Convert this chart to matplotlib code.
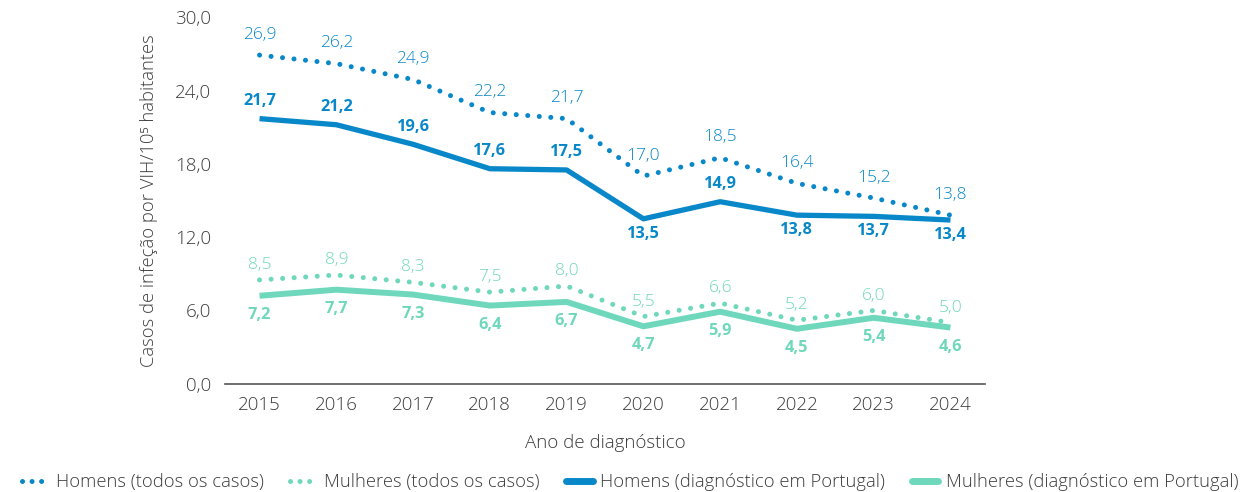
import matplotlib
matplotlib.use("Agg")
import matplotlib.pyplot as plt
from matplotlib.lines import Line2D
from matplotlib.ticker import FixedLocator, FuncFormatter

years = [2015, 2016, 2017, 2018, 2019, 2020, 2021, 2022, 2023, 2024]
homens_todos = [26.9, 26.2, 24.9, 22.2, 21.7, 17.0, 18.5, 16.4, 15.2, 13.8]
mulheres_todos = [8.5, 8.9, 8.3, 7.5, 8.0, 5.5, 6.6, 5.2, 6.0, 5.0]
homens_pt = [21.7, 21.2, 19.6, 17.6, 17.5, 13.5, 14.9, 13.8, 13.7, 13.4]
mulheres_pt = [7.2, 7.7, 7.3, 6.4, 6.7, 4.7, 5.9, 4.5, 5.4, 4.6]
# label placement for men (Portugal): 1 = above, -1 = below
homens_pt_pos = [1, 1, 1, 1, 1, -1, 1, -1, -1, -1]
yticks = [0, 6, 12, 18, 24, 30]

BLUE = "#0887c9"
TEAL = "#6fd8bc"
GRAY = "#3c3c3c"

plt.rcParams['font.family'] = ['Open Sans', 'DejaVu Sans']

fig = plt.figure(figsize=(12.5, 4.92), dpi=100)
ax = fig.add_axes([0.18, 0.22, 0.608, 0.745])

dot_style = (0, (0.01, 2.3))
ax.plot(years, homens_todos, color=BLUE, lw=3.6, linestyle=dot_style, dash_capstyle='round')
ax.plot(years, mulheres_todos, color=TEAL, lw=3.6, linestyle=dot_style, dash_capstyle='round')
ax.plot(years, homens_pt, color=BLUE, lw=3.8, solid_capstyle='butt')
ax.plot(years, mulheres_pt, color=TEAL, lw=4.3, solid_capstyle='butt')

def fmt(v):
    return f"{v:.1f}".replace(".", ",")

LBL = 12.5
for x, v in zip(years, homens_todos):
    ax.annotate(fmt(v), (x, v), xytext=(0, 9), textcoords='offset points',
                ha='center', va='bottom', color=BLUE, fontsize=LBL, fontweight='light')
for x, v in zip(years, mulheres_todos):
    ax.annotate(fmt(v), (x, v), xytext=(0, 5), textcoords='offset points',
                ha='center', va='bottom', color=TEAL, fontsize=LBL, fontweight='light')
for x, v, p in zip(years, homens_pt, homens_pt_pos):
    if p > 0:
        ax.annotate(fmt(v), (x, v), xytext=(0, 7), textcoords='offset points',
                    ha='center', va='bottom', color=BLUE, fontsize=11.8, fontweight='bold')
    else:
        ax.annotate(fmt(v), (x, v), xytext=(0, -5), textcoords='offset points',
                    ha='center', va='top', color=BLUE, fontsize=11.8, fontweight='bold')
for x, v in zip(years, mulheres_pt):
    ax.annotate(fmt(v), (x, v), xytext=(0, -8), textcoords='offset points',
                ha='center', va='top', color=TEAL, fontsize=11.8, fontweight='bold')

ax.set_xlim(2014.55, 2024.45)
ax.set_ylim(0, 30)
ax.yaxis.set_major_locator(FixedLocator(yticks))
ax.yaxis.set_major_formatter(FuncFormatter(lambda v, p: fmt(v)))
ax.set_xticks(years)
ax.set_xticklabels([str(y) for y in years])
for s in ['top', 'right', 'left']:
    ax.spines[s].set_visible(False)
ax.spines['bottom'].set_color('#555555')
ax.spines['bottom'].set_linewidth(1.2)
ax.tick_params(axis='both', length=0, labelsize=13.5, colors=GRAY, labelcolor=GRAY)
ax.tick_params(axis='x', pad=9)
ax.tick_params(axis='y', pad=10)
for t in ax.get_xticklabels() + ax.get_yticklabels():
    t.set_fontweight('light')

ax.set_ylabel("Casos de infeção por VIH/10⁵ habitantes", fontsize=13.2, color=GRAY,
              fontweight='light', labelpad=12)
ax.set_xlabel("Ano de diagnóstico", fontsize=13.5, color=GRAY, fontweight='light', labelpad=14)

handles = [
    Line2D([], [], color=BLUE, lw=3.6, linestyle=(0, (0.01, 1.9)), dash_capstyle='round'),
    Line2D([], [], color=TEAL, lw=3.6, linestyle=(0, (0.01, 1.9)), dash_capstyle='round'),
    Line2D([], [], color=BLUE, lw=5, solid_capstyle='round'),
    Line2D([], [], color=TEAL, lw=5, solid_capstyle='round'),
]
labels = ["Homens (todos os casos)", "Mulheres (todos os casos)",
          "Homens (diagnóstico em Portugal)", "Mulheres (diagnóstico em Portugal)"]
leg = fig.legend(handles, labels, loc='lower center', bbox_to_anchor=(0.504, -0.025), ncol=4,
                 frameon=False, fontsize=13.2, handlelength=1.45, handletextpad=0.4,
                 columnspacing=1.45, borderpad=0.2)
for t in leg.get_texts():
    t.set_color(GRAY)
    t.set_fontweight('light')

fig.savefig("out.png", dpi=100)
